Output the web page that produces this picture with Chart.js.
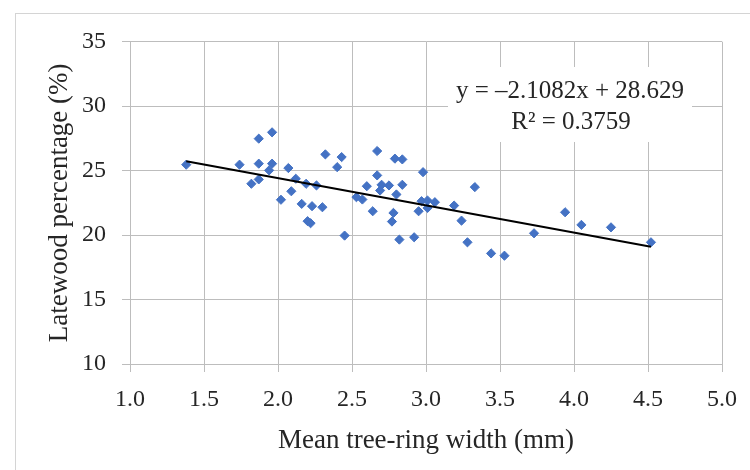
<!DOCTYPE html>
<html>
<head>
<meta charset="utf-8">
<script src="https://cdn.jsdelivr.net/npm/chart.js@4/dist/chart.umd.min.js"></script>
<style>
  html, body { margin: 0; padding: 0; background: #fff; overflow: hidden; }
  #wrap { position: relative; width: 750px; height: 470px; }
  #frame { position: absolute; left: 15px; top: 13px; width: 800px; height: 500px; border: 1.5px solid #d4d4d4; }
  canvas { position: absolute; left: 0; top: 0; }
</style>
</head>
<body>
<div id="wrap">
  <div id="frame"></div>
  <canvas id="chart" width="750" height="470"></canvas>
</div>
<script>
// --- DATA ---
const ringWidth = [
  1.38, 1.74, 1.82, 1.87, 1.87, 1.87, 1.94, 1.96, 1.96, 2.02,
  2.07, 2.09, 2.12, 2.16, 2.19, 2.20, 2.22, 2.23, 2.26, 2.30,
  2.32, 2.40, 2.43, 2.45, 2.53, 2.57, 2.60, 2.64, 2.67, 2.67,
  2.69, 2.70, 2.75, 2.77, 2.78, 2.79, 2.80, 2.82, 2.84, 2.84,
  2.92, 2.95, 2.97, 2.98, 3.01, 3.01, 3.06, 3.19, 3.24, 3.28,
  3.33, 3.44, 3.53, 3.73, 3.94, 4.05, 4.25, 4.52
];
const latewoodPct = [
  25.46, 25.46, 23.98, 24.32, 27.48, 25.54, 25.02, 27.97, 25.54, 22.74,
  25.20, 23.40, 24.37, 22.42, 23.98, 21.08, 20.92, 22.24, 23.85, 22.16,
  26.26, 25.27, 26.05, 19.96, 22.94, 22.76, 23.79, 21.85, 24.63, 26.52,
  23.46, 23.90, 23.85, 21.05, 21.72, 25.93, 23.15, 19.65, 25.87, 23.90,
  19.83, 21.85, 22.63, 24.88, 22.68, 22.10, 22.55, 22.29, 21.12, 19.44,
  23.72, 18.58, 18.40, 20.14, 21.77, 20.79, 20.60, 19.44
];
// trendline end points as drawn
const trendX = [1.38, 4.52];
const trendY = [25.72, 19.10];

const xTicks = [1.0, 1.5, 2.0, 2.5, 3.0, 3.5, 4.0, 4.5, 5.0];
const yTicks = [10, 15, 20, 25, 30, 35];
const equationLines = ["y = \u20132.1082x + 28.629", "R\u00b2 = 0.3759"];

// --- STYLE ---
const FONT = "'Liberation Serif', 'Times New Roman', serif";
const GRID = "#bdbdbd";
const TEXT = "#262626";

// --- PLUGIN: equation box ---
const equationBox = {
  id: "equationBox",
  beforeDatasetsDraw(chart) {
    const { ctx } = chart;
    ctx.save();
    ctx.fillStyle = "#fff";
    ctx.fillRect(448, 67, 244, 75);
    ctx.fillStyle = TEXT;
    ctx.font = "25px " + FONT;
    ctx.textAlign = "center";
    ctx.textBaseline = "middle";
    ctx.fillText(equationLines[0], 570, 91);
    ctx.fillText(equationLines[1], 571, 122);
    ctx.restore();
  }
};

// --- CHART ---
const points = ringWidth.map((x, i) => ({ x, y: latewoodPct[i] }));
const trend = trendX.map((x, i) => ({ x, y: trendY[i] }));

new Chart(document.getElementById("chart"), {
  type: "scatter",
  data: {
    datasets: [
      {
        data: trend,
        showLine: true,
        borderColor: "#000",
        borderWidth: 2,
        pointRadius: 0,
        order: 0
      },
      {
        data: points,
        pointStyle: "rectRot",
        pointRadius: 4.6,
        pointBackgroundColor: "#4472c4",
        pointBorderColor: "#4472c4",
        pointBorderWidth: 1,
        order: 1
      }
    ]
  },
  options: {
    responsive: false,
    animation: false,
    events: [],
    layout: { padding: { left: 0, top: 41.7, right: 25.5, bottom: 0 } },
    plugins: { legend: { display: false }, tooltip: { enabled: false } },
    scales: {
      x: {
        type: "linear",
        min: 1, max: 5,
        afterBuildTicks: s => { s.ticks = xTicks.map(v => ({ value: v })); },
        afterFit: s => { s.height = 106; },
        grid: { color: GRID, lineWidth: 1, tickLength: 8 },
        border: { color: GRID, width: 1 },
        ticks: {
          padding: 13,
          color: TEXT,
          font: { family: FONT, size: 24 },
          callback: v => v.toFixed(1)
        },
        title: {
          display: true,
          text: "Mean tree-ring width (mm)",
          color: TEXT,
          font: { family: FONT, size: 27 },
          padding: { top: 0, bottom: 12.8 }
        }
      },
      y: {
        type: "linear",
        min: 10, max: 35,
        afterBuildTicks: s => { s.ticks = yTicks.map(v => ({ value: v })); },
        afterFit: s => { s.width = 130; },
        grid: { color: GRID, lineWidth: 1, tickLength: 8 },
        border: { color: GRID, width: 1 },
        ticks: {
          padding: 16,
          color: TEXT,
          font: { family: FONT, size: 24 }
        },
        title: {
          display: true,
          text: "Latewood percentage (%)",
          color: TEXT,
          font: { family: FONT, size: 27 },
          padding: { top: 43.8, bottom: 0 }
        }
      }
    }
  },
  plugins: [equationBox]
});
</script>
</body>
</html>
